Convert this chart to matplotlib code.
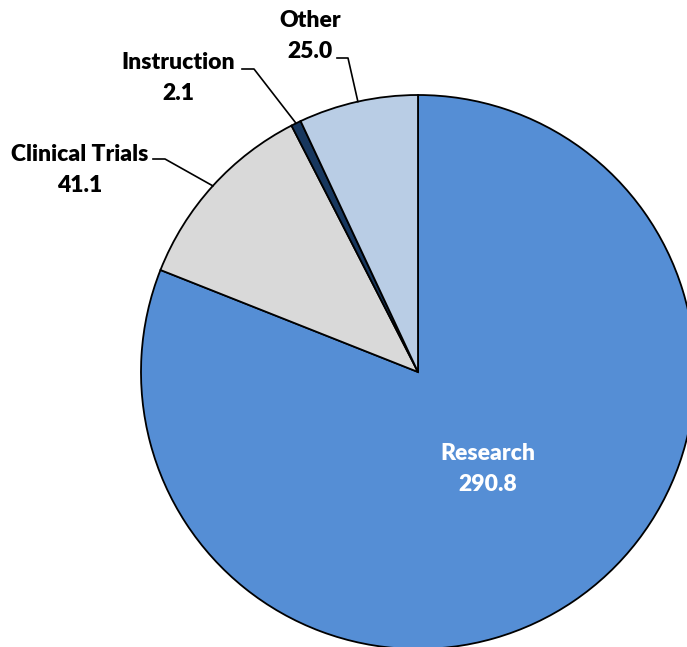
import numpy as np
import matplotlib.pyplot as plt

categories = ['Research', 'Clinical Trials', 'Instruction', 'Other']
values = [290.8, 41.1, 2.1, 25.0]
colors = ['#558ED5', '#D9D9D9', '#17375E', '#B9CDE5']

plt.rcParams['font.family'] = ['Lato', 'DejaVu Sans']

W, H = 687, 647
cx, cy, R = 418, 372, 277  # pie centre / radius in pixels

fig = plt.figure(figsize=(W / 100, H / 100), dpi=100)
ax = fig.add_axes([(cx - R) / W, (H - cy - R) / H, 2 * R / W, 2 * R / H])

wedges, _ = ax.pie(values, colors=colors, startangle=90, counterclock=False,
                   wedgeprops=dict(edgecolor='black', linewidth=1.3))
ax.set_xlim(-1, 1)
ax.set_ylim(-1, 1)
ax.set_aspect('equal')
ax.axis('off')


def px(x, y):
    # pixel position -> data coords
    return (x - cx) / R, (cy - y) / R


# label layout: text centre, leader elbow start/end (pixels)
layout = {
    'Clinical Trials': ((80, 170), (153, 165, 159)),
    'Instruction': ((178, 78), (242, 254, 69)),
    'Other': ((310, 36), (337, 348, 58)),
}
fs = 16.5
ls = 1.6

for w, name, v in zip(wedges, categories, values):
    label = f'{name}\n{v:.1f}'
    if name == 'Research':
        tx, ty = px(488, 469)
        ax.text(tx, ty, label, ha='center', va='center', color='white',
                fontsize=fs, fontweight='heavy', linespacing=ls)
        continue
    mid = np.deg2rad((w.theta1 + w.theta2) / 2)
    ex, ey = np.cos(mid), np.sin(mid)
    (tpx, tpy), (x0, x1, ly) = layout[name]
    tx, ty = px(tpx, tpy)
    ax.text(tx, ty, label, ha='center', va='center', color='black',
            fontsize=fs, fontweight='heavy', linespacing=ls)
    a = px(x0, ly)
    b = px(x1, ly)
    ax.plot([a[0], b[0], ex], [a[1], b[1], ey], color='black', lw=1.2,
            clip_on=False)

fig.savefig('out.png', dpi=100)
